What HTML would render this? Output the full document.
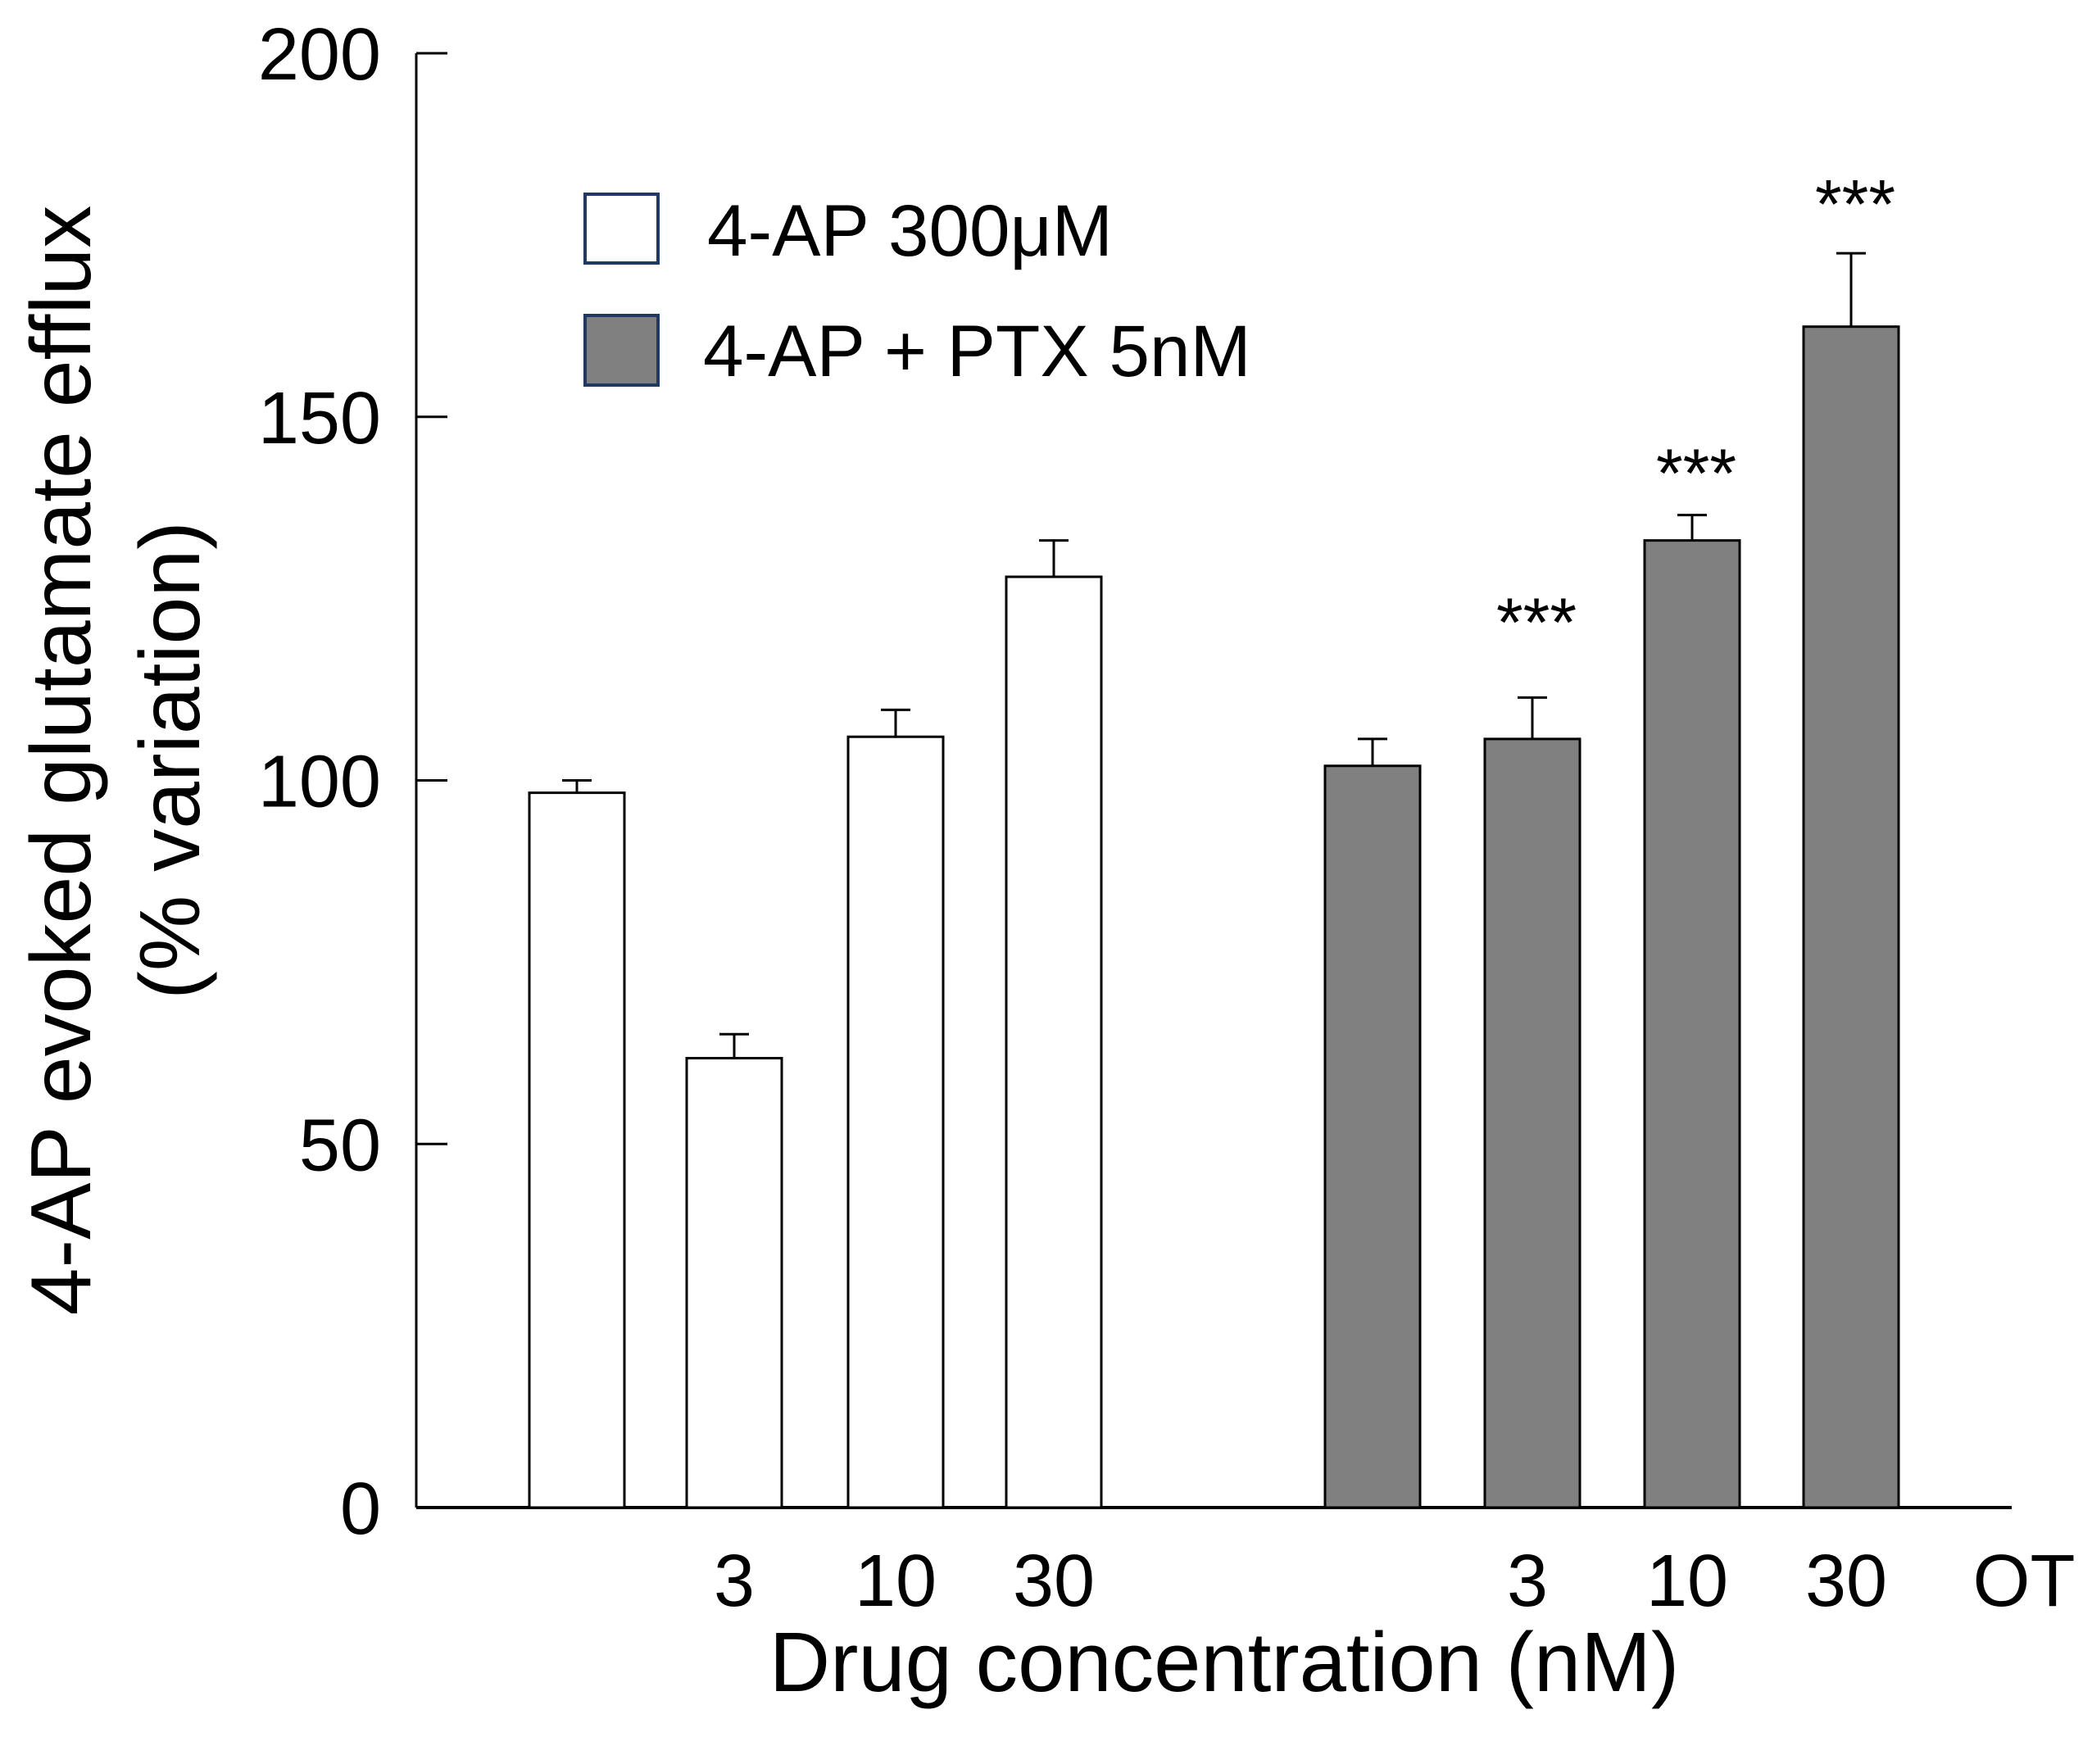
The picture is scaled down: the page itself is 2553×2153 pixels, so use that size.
<!DOCTYPE html>
<html><head><meta charset="utf-8"><style>body{margin:0;background:#fff}svg{display:block}text{font-family:"Liberation Sans",Arial,sans-serif;fill:#000}</style></head>
<body>
<svg id="chart" width="2553" height="2153" viewBox="0 0 2553 2153" xmlns="http://www.w3.org/2000/svg">
<g id="axes"></g>
<g id="bars"></g>
<g>
<rect x="714" y="237" width="89" height="84" fill="#fff" stroke="#1f3864" stroke-width="4"/>
<text x="863" y="312" font-size="89">4-AP 300μM</text>
<rect x="714" y="385" width="89" height="85" fill="#808080" stroke="#1f3864" stroke-width="4"/>
<text x="858" y="459" font-size="89">4-AP + PTX 5nM</text>
</g>
<text x="1494" y="2064" font-size="103" text-anchor="middle">Drug concentration (nM)</text>
<text transform="translate(110,928) rotate(-90)" font-size="104" text-anchor="middle">4-AP evoked glutamate efflux</text>
<text transform="translate(243,928) rotate(-90)" font-size="104" text-anchor="middle">(% variation)</text>
</svg>
<script>
const categories = ["", "3", "10", "30", "", "3", "10", "30"];
const groups = ["4ap", "4ap", "4ap", "4ap", "ptx", "ptx", "ptx", "ptx"];
const values = [98.3, 61.8, 106, 128, 102, 105.7, 133, 162.4];
const errors = [1.7, 3.3, 3.7, 5, 3.7, 5.7, 3.5, 10.1];
const stars = ["", "", "", "", "", "***", "***", "***"];
const starValues = [0, 0, 0, 0, 0, 123, 143.5, 180.5];
const yTicks = [0, 50, 100, 150, 200];
const extraLabel = "OT";

const NS = "http://www.w3.org/2000/svg";
const x0 = 508, xEnd = 2455, yBase = 1840, yTop = 65;
const barLeft = [646, 838, 1035, 1228, 1617, 1812, 2007, 2201];
const barW = 116;
function y(v){ return yBase - (v/200)*(yBase - yTop); }
function mk(t, a, p){ const e=document.createElementNS(NS,t); for(const k in a) e.setAttribute(k,a[k]); p.appendChild(e); return e; }

const axes = document.getElementById('axes');
const ya = mk('line',{x1:x0,y1:yTop,x2:x0,y2:yBase,stroke:'#000','stroke-width':3},axes);


const xa = mk('line',{x1:x0,y1:yBase,x2:xEnd,y2:yBase,stroke:'#000','stroke-width':4},axes);


yTicks.forEach(t=>{
  const tk = mk('line',{x1:x0,y1:y(t),x2:x0+38,y2:y(t),stroke:'#000','stroke-width':3},axes);
  
  
  const lb = mk('text',{x:465,y:y(t)+32,'font-size':90,'text-anchor':'end'},axes);
  
  
  lb.textContent = t;
});
const bars = document.getElementById('bars');
values.forEach((v,i)=>{
  const xl = barLeft[i], cx = xl + barW/2;
  const e = mk('line',{x1:cx,y1:y(v),x2:cx,y2:y(v+errors[i]),stroke:'#000','stroke-width':3},bars);
  
  
  const c = mk('line',{x1:cx-18,y1:y(v+errors[i]),x2:cx+18,y2:y(v+errors[i]),stroke:'#000','stroke-width':3},bars);
  
  
  const r = mk('rect',{x:xl,y:y(v),width:barW,height:yBase-y(v),fill:groups[i]==='ptx'?'#808080':'#fff',stroke:'#000','stroke-width':3},bars);
  
  
  if(categories[i]){
    const t = mk('text',{x:cx+(i>=4?-6:0),y:1960,'font-size':90,'text-anchor':'middle'},bars);
    
    
    t.textContent = categories[i];
  }
  if(stars[i]){
    const s = mk('text',{x:cx+5,y:y(starValues[i])+40,'font-size':84,'text-anchor':'middle'},bars);
    
    
    s.textContent = stars[i];
  }
});
const ot = mk('text',{x:2470,y:1960,'font-size':90,'text-anchor':'middle'},bars);


ot.textContent = extraLabel;
</script>
</body></html>
